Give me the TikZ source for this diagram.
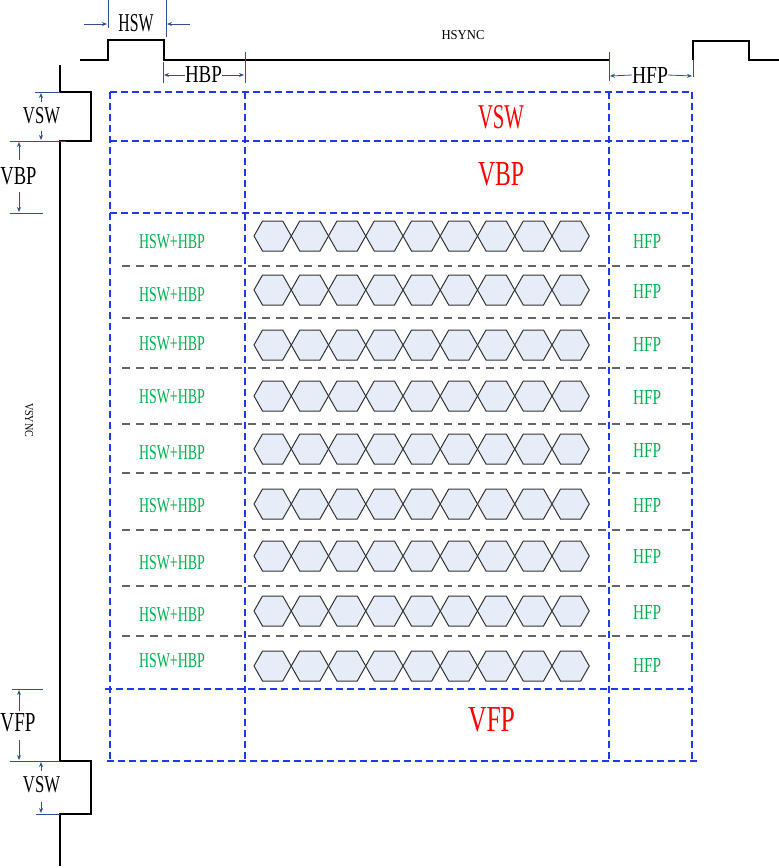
\documentclass[tikz,border=0pt]{standalone}
\usepackage{fontspec}
\setmainfont{Liberation Serif}
\usetikzlibrary{arrows.meta}
\definecolor{gridblue}{RGB}{35,55,235}
\definecolor{dimblue}{RGB}{50,80,140}
\definecolor{rowgray}{RGB}{100,100,100}
\definecolor{hexfill}{RGB}{231,237,248}
\definecolor{hexline}{RGB}{50,50,50}
\definecolor{lblgreen}{RGB}{0,176,80}
\definecolor{lblred}{RGB}{255,0,0}
\newcommand\fitlbl[3]{\resizebox{#1pt}{#2pt}{#3}}
\begin{document}
\begin{tikzpicture}[x=1pt,y=-1pt,
  wave/.style={line width=1.8pt, black},
  gridline/.style={gridblue, line width=1.1pt, dash pattern=on 7pt off 4pt},
  rowline/.style={rowgray, line width=1.1pt, dash pattern=on 8pt off 6pt},
  dimline/.style={dimblue, line width=0.8pt},
  dimarrow/.style={dimblue, line width=0.8pt, -{Stealth[length=5pt,width=4pt]}},
  lbl/.style={inner sep=0pt, outer sep=0pt, anchor=center},
  greenlbl/.style={lbl, text=lblgreen},
  redlbl/.style={lbl, text=lblred},
  hexa/.style={draw=hexline, fill=hexfill, line width=1pt},
]
\useasboundingbox (0,0) rectangle (779,868);

% ---------- HSYNC waveform ----------
\draw[wave] (80,60) -- (108,60) -- (108,40) -- (164,40) -- (164,60) -- (609,60);
\draw[wave] (693,60) -- (693,41) -- (749,41) -- (749,60) -- (779,60);
\node[lbl] (hsync) at (463,35) {\fitlbl{43}{9}{HSYNC}};

% HSW
\node[lbl] (hsw) at (136,23) {\fitlbl{35}{17}{HSW}};
\coordinate (hswT1a) at (108,0);  \coordinate (hswT1b) at (108,28);
\coordinate (hswT2a) at (166,0);  \coordinate (hswT2b) at (166,37);
\draw[dimline] (hswT1a) -- (hswT1b);
\draw[dimline] (hswT2a) -- (hswT2b);
\coordinate (hswA1) at (84,24);  \coordinate (hswA1e) at (107,24);
\coordinate (hswA2) at (190,24); \coordinate (hswA2e) at (167,24);
\draw[dimarrow] (hswA1) -- (hswA1e);
\draw[dimarrow] (hswA2) -- (hswA2e);

% HBP
\node[lbl] (hbp) at (203.5,75) {\fitlbl{37}{16}{HBP}};
\coordinate (hbpT1a) at (163,62); \coordinate (hbpT1b) at (163,83);
\coordinate (hbpT2a) at (245,52); \coordinate (hbpT2b) at (245,83);
\draw[dimline] (hbpT1a) -- (hbpT1b);
\draw[dimline] (hbpT2a) -- (hbpT2b);
\coordinate (hbpL) at (164,75); \coordinate (hbpR) at (244,75);
\draw[dimarrow] (hbp.west) -- (hbpL);
\draw[dimarrow] (hbp.east) -- (hbpR);

% HFP
\node[lbl] (hfp) at (650,75) {\fitlbl{36}{16}{HFP}};
\coordinate (hfpT1a) at (609,52); \coordinate (hfpT1b) at (609,81);
\coordinate (hfpT2a) at (693,60); \coordinate (hfpT2b) at (693,77);
\draw[dimline] (hfpT1a) -- (hfpT1b);
\draw[dimline] (hfpT2a) -- (hfpT2b);
\coordinate (hfpL) at (610,76); \coordinate (hfpR) at (692,76);
\draw[dimarrow] (hfp.west) -- (hfpL);
\draw[dimarrow] (hfp.east) -- (hfpR);

% ---------- VSYNC waveform ----------
\draw[wave] (60,65) -- (60,92) -- (91,92) -- (91,141) -- (60,141) -- (60,761)
  -- (91,761) -- (91,814) -- (60,814) -- (60,866);
\node[lbl, rotate=-90] (vsync) at (29,420) {\fitlbl{34}{8}{VSYNC}};

% VSW top
\node[lbl] (vswa) at (41.5,116) {\fitlbl{37}{16}{VSW}};
\coordinate (vswaT1a) at (35,92);  \coordinate (vswaT1b) at (60,92);
\coordinate (vswaT2a) at (36,141); \coordinate (vswaT2b) at (66,141);
\draw[dimline] (vswaT1a) -- (vswaT1b);
\draw[dimline] (vswaT2a) -- (vswaT2b);
\coordinate (vswaU) at (41,102);  \coordinate (vswaUe) at (41,93);
\coordinate (vswaD) at (41,131);  \coordinate (vswaDe) at (41,140);
\draw[dimarrow] (vswaU) -- (vswaUe);
\draw[dimarrow] (vswaD) -- (vswaDe);

% VBP
\node[lbl] (vbp) at (18.5,176) {\fitlbl{36}{17}{VBP}};
\coordinate (vbpT1a) at (10,141); \coordinate (vbpT1b) at (36,141);
\coordinate (vbpT2a) at (10,213); \coordinate (vbpT2b) at (43,213);
\draw[dimline] (vbpT1a) -- (vbpT1b);
\draw[dimline] (vbpT2a) -- (vbpT2b);
\coordinate (vbpU) at (19,160);  \coordinate (vbpUe) at (19,142);
\coordinate (vbpD) at (19,192);  \coordinate (vbpDe) at (19,212);
\draw[dimarrow] (vbpU) -- (vbpUe);
\draw[dimarrow] (vbpD) -- (vbpDe);

% VFP
\node[lbl] (vfp) at (18,723) {\fitlbl{35}{18}{VFP}};
\coordinate (vfpT1a) at (12,689); \coordinate (vfpT1b) at (43,689);
\coordinate (vfpT2a) at (10,761); \coordinate (vfpT2b) at (60,761);
\draw[dimline] (vfpT1a) -- (vfpT1b);
\draw[dimline] (vfpT2a) -- (vfpT2b);
\coordinate (vfpU) at (19,711);  \coordinate (vfpUe) at (19,690);
\coordinate (vfpD) at (19,740);  \coordinate (vfpDe) at (19,760);
\draw[dimarrow] (vfpU) -- (vfpUe);
\draw[dimarrow] (vfpD) -- (vfpDe);

% VSW bottom
\node[lbl] (vswb) at (41.5,785) {\fitlbl{37}{16}{VSW}};
\coordinate (vswbT1a) at (36,814); \coordinate (vswbT1b) at (60,814);
\draw[dimline] (vswbT1a) -- (vswbT1b);
\coordinate (vswbU) at (41,771);  \coordinate (vswbUe) at (41,762);
\coordinate (vswbD) at (41,802);  \coordinate (vswbDe) at (41,813);
\draw[dimarrow] (vswbU) -- (vswbUe);
\draw[dimarrow] (vswbD) -- (vswbDe);

% ---------- grid ----------
\foreach \yy/\xa/\xb in {92/110/692, 141/110/692, 213/110/692, 689/105/692, 761/107/700}
  \draw[gridline] (\xa,\yy) -- (\xb,\yy);
\foreach \xx in {110,245,609,692}
  \draw[gridline] (\xx,92) -- (\xx,761);
\foreach \yy in {266,318,368,424,473,530,586,636}
  \draw[rowline] (122,\yy) -- (692,\yy);

% ---------- red labels ----------
\node[redlbl] (rvsw) at (501,117.5) {\fitlbl{46}{23}{VSW}};
\node[redlbl] (rvbp) at (501,174.5) {\fitlbl{46}{23}{VBP}};
\node[redlbl] (rvfp) at (491.5,720) {\fitlbl{47}{24}{VFP}};

% ---------- pixel rows ----------
\foreach \cy/\ly/\fy [count=\r] in {236/242/241, 290/295/291, 345/344/344, 396/397/397,
    449/453/450, 504/506/505, 556/563/556, 611/615/612, 666/661/665} {
  \foreach \i in {0,...,8} {
    \pgfmathsetmacro{\xo}{254+37.25*\i}
    \draw[hexa] (\xo,\cy) -- ++(8.5,-15) -- ++(20.25,0) -- ++(8.5,15)
      -- ++(-8.5,15) -- ++(-20.25,0) -- cycle;
  }
  \node[greenlbl] (hb\r) at (172,\ly) {\fitlbl{66}{14}{HSW+HBP}};
  \node[greenlbl] (hf\r) at (647,\fy) {\fitlbl{28}{14}{HFP}};
}
\end{tikzpicture}
\end{document}
